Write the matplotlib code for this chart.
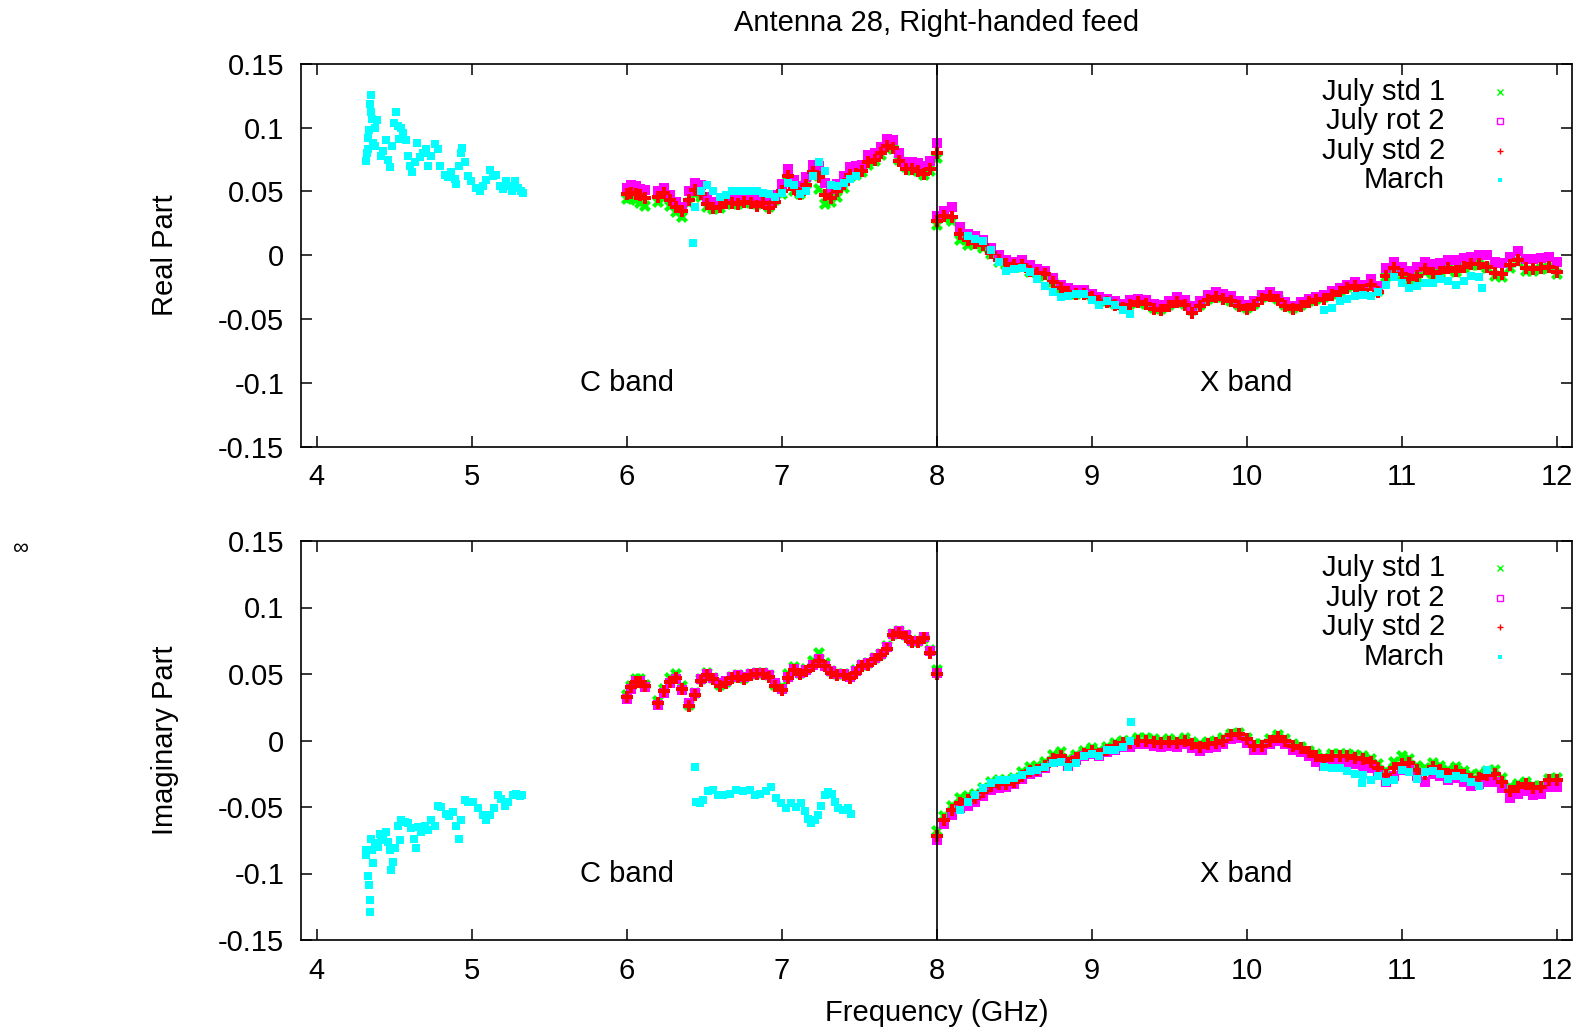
import numpy as np
import matplotlib
matplotlib.use("Agg")
import matplotlib.pyplot as plt

plt.rcParams['font.family'] = ['Liberation Sans', 'DejaVu Sans']
plt.rcParams['axes.unicode_minus'] = False

TITLE = "Antenna 28, Right-handed feed"
SERIES = ["July std 1", "July rot 2", "July std 2", "March"]
COLORS = ["#00ff00", "#ff00ff", "#ff0000", "#00ffff"]
XTICKS = [4, 5, 6, 7, 8, 9, 10, 11, 12]
YTICKS = [-0.15, -0.1, -0.05, 0, 0.05, 0.1, 0.15]
YTICK_LABELS = ["-0.15", "-0.1", "-0.05", "0", "0.05", "0.1", "0.15"]

# ---------------- frequency grids (GHz) for July data ----------------
F_C1 = [6.00, 6.03, 6.06, 6.09, 6.12]
F_C2 = [6.20, 6.24, 6.28, 6.32, 6.36]
F_C3 = np.round(np.arange(6.40, 8.001, 0.04), 2)
F_X = np.round(np.arange(8.00, 12.001, 0.05), 2)

# ---------------- TOP panel: Real part ----------------
G_TOP_C1 = [0.044, 0.045, 0.043, 0.041, 0.039]
M_TOP_C1 = [0.053, 0.055, 0.054, 0.052, 0.051]
R_TOP_C1 = [0.048, 0.049, 0.048, 0.047, 0.045]
G_TOP_C2 = [0.042, 0.045, 0.039, 0.034, 0.030]
M_TOP_C2 = [0.050, 0.053, 0.047, 0.042, 0.038]
R_TOP_C2 = [0.046, 0.049, 0.043, 0.038, 0.035]

M_TOP_C3 = [0.050, 0.057, 0.055, 0.046, 0.042, 0.042, 0.045, 0.045, 0.044, 0.046,
            0.045, 0.044, 0.045, 0.042, 0.047, 0.056, 0.068, 0.059, 0.054, 0.061,
            0.071, 0.070, 0.057, 0.052, 0.056, 0.062, 0.069, 0.070, 0.071, 0.079,
            0.080, 0.085, 0.091, 0.090, 0.080, 0.073, 0.073, 0.072, 0.070, 0.074,
            0.088]
R_TOP_C3 = [0.043, 0.051, 0.048, 0.040, 0.037, 0.038, 0.041, 0.041, 0.040, 0.042,
            0.041, 0.039, 0.041, 0.037, 0.042, 0.050, 0.062, 0.052, 0.048, 0.055,
            0.065, 0.061, 0.047, 0.045, 0.050, 0.056, 0.063, 0.064, 0.066, 0.073,
            0.075, 0.080, 0.086, 0.084, 0.074, 0.068, 0.068, 0.066, 0.064, 0.068,
            0.080]
G_TOP_C3 = [0.041, 0.048, 0.046, 0.038, 0.036, 0.037, 0.040, 0.041, 0.040, 0.042,
            0.041, 0.040, 0.041, 0.038, 0.043, 0.048, 0.058, 0.050, 0.048, 0.056,
            0.062, 0.052, 0.040, 0.042, 0.046, 0.053, 0.061, 0.063, 0.065, 0.071,
            0.074, 0.079, 0.084, 0.083, 0.075, 0.069, 0.067, 0.066, 0.063, 0.066,
            0.076]

M_TOP_X = [0.031, 0.035, 0.038, 0.022, 0.017, 0.015, 0.012, 0.006, 0.000, -0.004,
           -0.005, -0.004, -0.008, -0.011, -0.012, -0.018, -0.023, -0.026, -0.027, -0.027,
           -0.030, -0.033, -0.034, -0.036, -0.038, -0.035, -0.034, -0.035, -0.038, -0.039,
           -0.036, -0.033, -0.035, -0.040, -0.036, -0.031, -0.029, -0.030, -0.032, -0.036,
           -0.039, -0.036, -0.031, -0.029, -0.032, -0.037, -0.040, -0.037, -0.034, -0.033,
           -0.031, -0.028, -0.026, -0.023, -0.021, -0.023, -0.019, -0.024, -0.010, -0.005,
           -0.009, -0.012, -0.009, -0.005, -0.007, -0.006, -0.004, -0.004, -0.002, -0.001,
           0.000, 0.000, -0.005, -0.006, -0.001, 0.003, -0.003, -0.003, -0.002, -0.001,
           -0.005]
R_TOP_X = [0.027, 0.031, 0.030, 0.017, 0.012, 0.010, 0.008, 0.002, -0.004, -0.007,
           -0.008, -0.008, -0.012, -0.014, -0.015, -0.021, -0.026, -0.029, -0.030, -0.030,
           -0.033, -0.036, -0.037, -0.039, -0.041, -0.039, -0.037, -0.038, -0.042, -0.043,
           -0.040, -0.037, -0.039, -0.045, -0.040, -0.035, -0.033, -0.034, -0.036, -0.040,
           -0.042, -0.039, -0.034, -0.032, -0.035, -0.040, -0.042, -0.040, -0.037, -0.035,
           -0.034, -0.031, -0.029, -0.026, -0.024, -0.027, -0.023, -0.029, -0.016, -0.010,
           -0.015, -0.019, -0.016, -0.011, -0.014, -0.013, -0.010, -0.012, -0.009, -0.007,
           -0.007, -0.009, -0.014, -0.015, -0.008, -0.004, -0.010, -0.011, -0.010, -0.009,
           -0.013]
G_TOP_X = [0.024, 0.029, 0.027, 0.012, 0.008, 0.009, 0.006, 0.001, -0.005, -0.008,
           -0.009, -0.009, -0.013, -0.014, -0.016, -0.021, -0.026, -0.028, -0.030, -0.029,
           -0.032, -0.035, -0.036, -0.038, -0.040, -0.038, -0.037, -0.038, -0.041, -0.042,
           -0.039, -0.037, -0.038, -0.043, -0.039, -0.034, -0.033, -0.033, -0.036, -0.039,
           -0.041, -0.038, -0.033, -0.032, -0.034, -0.039, -0.041, -0.039, -0.036, -0.034,
           -0.033, -0.030, -0.028, -0.025, -0.023, -0.026, -0.023, -0.028, -0.017, -0.012,
           -0.016, -0.020, -0.017, -0.013, -0.015, -0.014, -0.011, -0.013, -0.010, -0.008,
           -0.008, -0.010, -0.016, -0.017, -0.010, -0.005, -0.012, -0.012, -0.011, -0.010,
           -0.015]

# March, real part
TOP_MARCH_C1_F = [4.320, 4.325, 4.330, 4.335, 4.338, 4.345, 4.350, 4.353, 4.360, 4.365,
                  4.375, 4.380, 4.392, 4.413, 4.430, 4.446, 4.460, 4.476, 4.490, 4.500,
                  4.515, 4.525, 4.535, 4.547, 4.558, 4.575, 4.590, 4.605, 4.618, 4.633,
                  4.648, 4.665, 4.686, 4.704, 4.719, 4.740, 4.762, 4.783, 4.798, 4.826,
                  4.848, 4.869, 4.891, 4.902, 4.919, 4.930, 4.940, 4.955, 4.977, 4.998,
                  5.026, 5.052, 5.074, 5.095, 5.117, 5.138, 5.160, 5.181, 5.203, 5.224,
                  5.246, 5.261, 5.278, 5.300, 5.321, 5.330]
TOP_MARCH_C1_V = [0.074, 0.080, 0.083, 0.092, 0.098, 0.119, 0.126, 0.112, 0.107, 0.088,
                  0.086, 0.100, 0.106, 0.078, 0.082, 0.090, 0.075, 0.069, 0.086, 0.104,
                  0.112, 0.101, 0.091, 0.100, 0.096, 0.090, 0.078, 0.070, 0.065, 0.073,
                  0.088, 0.077, 0.080, 0.083, 0.070, 0.078, 0.087, 0.083, 0.070, 0.063,
                  0.061, 0.065, 0.060, 0.056, 0.070, 0.080, 0.084, 0.073, 0.062, 0.058,
                  0.053, 0.050, 0.054, 0.059, 0.067, 0.062, 0.063, 0.054, 0.052, 0.058,
                  0.054, 0.050, 0.058, 0.053, 0.050, 0.049]
TOP_MARCH_C2_F = [6.430, 6.440, 6.480, 6.520, 6.560, 6.600, 6.640, 6.680, 6.720, 6.760,
                  6.800, 6.840, 6.880, 6.920, 6.960, 7.000, 7.040, 7.080, 7.120, 7.160,
                  7.200, 7.240, 7.280, 7.320, 7.360, 7.400, 7.440, 7.480]
TOP_MARCH_C2_V = [0.010, 0.038, 0.050, 0.055, 0.050, 0.046, 0.047, 0.050, 0.050, 0.050,
                  0.050, 0.050, 0.049, 0.048, 0.046, 0.049, 0.057, 0.055, 0.048, 0.050,
                  0.062, 0.073, 0.066, 0.055, 0.054, 0.057, 0.060, 0.062]
TOP_MARCH_X1_F = np.round(np.arange(8.20, 9.251, 0.05), 2)
TOP_MARCH_X1_V = [0.015, 0.013, 0.011, 0.004, -0.005, -0.012, -0.011, -0.010, -0.013, -0.019,
                  -0.024, -0.029, -0.033, -0.032, -0.030, -0.030, -0.035, -0.039, -0.036, -0.039,
                  -0.043, -0.046]
TOP_MARCH_X2_F = list(np.round(np.arange(10.50, 11.501, 0.05), 2)) + [11.52]
TOP_MARCH_X2_V = [-0.043, -0.041, -0.036, -0.034, -0.032, -0.031, -0.032, -0.029, -0.023, -0.017,
                  -0.022, -0.026, -0.024, -0.022, -0.022, -0.019, -0.020, -0.023, -0.020, -0.016,
                  -0.017, -0.026]

# ---------------- BOTTOM panel: Imaginary part ----------------
G_BOT_C1 = [0.034, 0.041, 0.046, 0.046, 0.042]
M_BOT_C1 = [0.031, 0.039, 0.045, 0.045, 0.040]
R_BOT_C1 = [0.033, 0.040, 0.044, 0.044, 0.041]
G_BOT_C2 = [0.030, 0.039, 0.047, 0.050, 0.041]
M_BOT_C2 = [0.027, 0.036, 0.043, 0.046, 0.038]
R_BOT_C2 = [0.028, 0.037, 0.044, 0.047, 0.039]

R_BOT_C3 = [0.026, 0.034, 0.045, 0.049, 0.046, 0.041, 0.043, 0.047, 0.048, 0.046,
            0.049, 0.050, 0.050, 0.048, 0.041, 0.038, 0.047, 0.053, 0.050, 0.052,
            0.056, 0.060, 0.056, 0.051, 0.049, 0.049, 0.047, 0.051, 0.056, 0.057,
            0.061, 0.064, 0.069, 0.079, 0.081, 0.078, 0.074, 0.074, 0.077, 0.066,
            0.050]
M_BOT_C3 = [0.028, 0.036, 0.046, 0.050, 0.047, 0.043, 0.045, 0.048, 0.049, 0.048,
            0.050, 0.051, 0.051, 0.049, 0.043, 0.039, 0.048, 0.054, 0.051, 0.053,
            0.057, 0.061, 0.056, 0.052, 0.050, 0.050, 0.048, 0.052, 0.057, 0.058,
            0.062, 0.065, 0.070, 0.080, 0.082, 0.079, 0.075, 0.075, 0.078, 0.067,
            0.051]
G_BOT_C3 = [0.027, 0.036, 0.046, 0.051, 0.047, 0.042, 0.044, 0.048, 0.049, 0.047,
            0.050, 0.051, 0.051, 0.049, 0.042, 0.040, 0.050, 0.055, 0.051, 0.054,
            0.060, 0.066, 0.058, 0.052, 0.050, 0.050, 0.049, 0.053, 0.057, 0.058,
            0.062, 0.065, 0.071, 0.080, 0.082, 0.079, 0.075, 0.075, 0.077, 0.068,
            0.053]

R_BOT_X = [-0.072, -0.060, -0.052, -0.047, -0.045, -0.043, -0.039, -0.034, -0.033, -0.033,
           -0.031, -0.027, -0.023, -0.022, -0.019, -0.014, -0.012, -0.017, -0.013, -0.010,
           -0.008, -0.010, -0.007, -0.004, -0.002, -0.002, 0.000, 0.000, -0.001, -0.002,
           -0.001, -0.002, 0.000, -0.003, -0.005, -0.003, -0.002, 0.000, 0.004, 0.005,
           0.001, -0.004, -0.004, 0.000, 0.003, 0.000, -0.004, -0.006, -0.009, -0.012,
           -0.015, -0.012, -0.012, -0.012, -0.013, -0.014, -0.016, -0.021, -0.026, -0.021,
           -0.018, -0.017, -0.022, -0.025, -0.020, -0.022, -0.025, -0.023, -0.026, -0.029,
           -0.028, -0.026, -0.025, -0.031, -0.038, -0.035, -0.033, -0.036, -0.035, -0.030,
           -0.030]
M_BOT_X = [-0.075, -0.063, -0.056, -0.051, -0.049, -0.046, -0.042, -0.037, -0.036, -0.035,
           -0.033, -0.029, -0.025, -0.024, -0.021, -0.016, -0.014, -0.019, -0.015, -0.012,
           -0.010, -0.012, -0.009, -0.007, -0.005, -0.005, -0.003, -0.003, -0.004, -0.005,
           -0.004, -0.005, -0.003, -0.006, -0.008, -0.006, -0.005, -0.003, 0.001, 0.002,
           -0.002, -0.007, -0.007, -0.003, 0.000, -0.003, -0.007, -0.009, -0.012, -0.016,
           -0.019, -0.017, -0.017, -0.017, -0.018, -0.019, -0.021, -0.026, -0.031, -0.027,
           -0.022, -0.022, -0.027, -0.031, -0.025, -0.027, -0.030, -0.028, -0.031, -0.034,
           -0.033, -0.031, -0.031, -0.036, -0.043, -0.040, -0.038, -0.041, -0.040, -0.035,
           -0.035]
G_BOT_X = [-0.068, -0.057, -0.049, -0.043, -0.042, -0.040, -0.036, -0.031, -0.030, -0.030,
           -0.028, -0.024, -0.020, -0.019, -0.016, -0.011, -0.009, -0.014, -0.011, -0.008,
           -0.006, -0.008, -0.005, -0.002, 0.000, 0.000, 0.002, 0.002, 0.001, 0.000,
           0.001, 0.000, 0.002, -0.001, -0.003, -0.001, 0.000, 0.002, 0.005, 0.006,
           0.002, -0.003, -0.003, 0.001, 0.004, 0.001, -0.003, -0.005, -0.008, -0.010,
           -0.013, -0.010, -0.010, -0.010, -0.011, -0.012, -0.014, -0.018, -0.023, -0.016,
           -0.012, -0.014, -0.019, -0.021, -0.017, -0.019, -0.022, -0.020, -0.023, -0.026,
           -0.025, -0.023, -0.022, -0.028, -0.035, -0.033, -0.031, -0.034, -0.034, -0.029,
           -0.028]

# March, imaginary part
BOT_MARCH_C1_F = [4.317, 4.321, 4.332, 4.337, 4.346, 4.346, 4.353, 4.359, 4.364, 4.375,
                  4.396, 4.407, 4.418, 4.430, 4.446, 4.461, 4.472, 4.482, 4.493, 4.504,
                  4.525, 4.536, 4.547, 4.568, 4.590, 4.610, 4.626, 4.644, 4.654, 4.676,
                  4.697, 4.719, 4.740, 4.762, 4.783, 4.805, 4.837, 4.858, 4.880, 4.902,
                  4.917, 4.934, 4.955, 4.977, 5.009, 5.041, 5.074, 5.095, 5.117, 5.143,
                  5.170, 5.192, 5.213, 5.235, 5.267, 5.289, 5.310, 5.327]
BOT_MARCH_C1_V = [-0.082, -0.086, -0.102, -0.109, -0.120, -0.129, -0.074, -0.082, -0.092, -0.077,
                  -0.080, -0.070, -0.075, -0.072, -0.069, -0.076, -0.082, -0.097, -0.091, -0.081,
                  -0.064, -0.075, -0.060, -0.061, -0.062, -0.066, -0.074, -0.081, -0.065, -0.069,
                  -0.064, -0.067, -0.060, -0.064, -0.049, -0.050, -0.055, -0.057, -0.054, -0.064,
                  -0.074, -0.060, -0.045, -0.046, -0.046, -0.051, -0.056, -0.060, -0.056, -0.051,
                  -0.041, -0.044, -0.049, -0.046, -0.041, -0.040, -0.042, -0.041]
BOT_MARCH_C2_F = [6.439, 6.450, 6.472, 6.493, 6.525, 6.557, 6.590, 6.622, 6.665, 6.708,
                  6.751, 6.794, 6.826, 6.859, 6.902, 6.934, 6.966, 6.998, 7.031, 7.063,
                  7.095, 7.127, 7.149, 7.170, 7.192, 7.213, 7.235, 7.256, 7.278, 7.299,
                  7.327, 7.342, 7.364, 7.396, 7.428, 7.450]
BOT_MARCH_C2_V = [-0.020, -0.046, -0.047, -0.045, -0.038, -0.037, -0.041, -0.041, -0.040, -0.037,
                  -0.038, -0.037, -0.041, -0.040, -0.038, -0.035, -0.043, -0.047, -0.051, -0.047,
                  -0.050, -0.047, -0.053, -0.059, -0.062, -0.060, -0.056, -0.049, -0.041, -0.039,
                  -0.040, -0.046, -0.051, -0.052, -0.051, -0.055]
BOT_MARCH_X1_F = list(np.round(np.arange(8.15, 9.251, 0.05), 2)) + [9.257]
BOT_MARCH_X1_V = [-0.052, -0.046, -0.041, -0.036, -0.032, -0.030, -0.030, -0.028, -0.026, -0.023,
                  -0.022, -0.020, -0.017, -0.016, -0.020, -0.017, -0.012, -0.010, -0.012, -0.007,
                  -0.007, -0.005, 0.000, 0.014]
BOT_MARCH_X2_F = list(np.round(np.arange(10.50, 11.501, 0.05), 2)) + [10.746, 11.55]
BOT_MARCH_X2_V = [-0.020, -0.021, -0.021, -0.023, -0.025, -0.026, -0.030, -0.027, -0.031, -0.030,
                  -0.022, -0.024, -0.029, -0.024, -0.023, -0.025, -0.029, -0.027, -0.028, -0.031,
                  -0.034, -0.032, -0.022]


def cat(*parts):
    return np.concatenate([np.asarray(p, dtype=float) for p in parts])


F_JULY = cat(F_C1, F_C2, F_C3, F_X)

panels = [
    dict(ylabel="Real Part",
         g=cat(G_TOP_C1, G_TOP_C2, G_TOP_C3, G_TOP_X),
         m=cat(M_TOP_C1, M_TOP_C2, M_TOP_C3, M_TOP_X),
         r=cat(R_TOP_C1, R_TOP_C2, R_TOP_C3, R_TOP_X),
         fm=cat(TOP_MARCH_C1_F, TOP_MARCH_C2_F, TOP_MARCH_X1_F, TOP_MARCH_X2_F),
         vm=cat(TOP_MARCH_C1_V, TOP_MARCH_C2_V, TOP_MARCH_X1_V, TOP_MARCH_X2_V),
         rect=[301 / 1591, 1 - 446.5 / 1034, 1271 / 1591, 382.5 / 1034],
         leg_y=[0.927, 0.850, 0.773, 0.696]),
    dict(ylabel="Imaginary Part",
         g=cat(G_BOT_C1, G_BOT_C2, G_BOT_C3, G_BOT_X),
         m=cat(M_BOT_C1, M_BOT_C2, M_BOT_C3, M_BOT_X),
         r=cat(R_BOT_C1, R_BOT_C2, R_BOT_C3, R_BOT_X),
         fm=cat(BOT_MARCH_C1_F, BOT_MARCH_C2_F, BOT_MARCH_X1_F, BOT_MARCH_X2_F),
         vm=cat(BOT_MARCH_C1_V, BOT_MARCH_C2_V, BOT_MARCH_X1_V, BOT_MARCH_X2_V),
         rect=[301 / 1591, 1 - 940 / 1034, 1271 / 1591, 399 / 1034],
         leg_y=[0.932, 0.858, 0.784, 0.710]),
]

FS = 21
fig = plt.figure(figsize=(15.91, 10.34), dpi=100)

for i, p in enumerate(panels):
    ax = fig.add_axes(p["rect"])
    ax.plot(F_JULY, p["g"], ls="none", marker="X", ms=8, mew=0, color=COLORS[0])
    ax.plot(F_JULY, p["m"], ls="none", marker="s", ms=7, mew=0, color=COLORS[1])
    ax.plot(F_JULY, p["r"], ls="none", marker="P", ms=8, mew=0, color=COLORS[2])
    ax.plot(p["fm"], p["vm"], ls="none", marker="s", ms=5.5, mew=0, color=COLORS[3])
    ax.axvline(8.0, color="black", lw=1.2)
    ax.set_xlim(3.9, 12.1)
    ax.set_ylim(-0.15, 0.15)
    ax.set_xticks(XTICKS)
    ax.set_xticklabels([str(t) for t in XTICKS])
    ax.set_yticks(YTICKS)
    ax.set_yticklabels(YTICK_LABELS)
    ax.tick_params(direction="in", length=8, width=1.1, top=True, right=True,
                   labelsize=FS)
    ax.tick_params(axis="y", pad=12)
    ax.tick_params(axis="x", pad=12)
    for s in ax.spines.values():
        s.set_linewidth(1.2)
    ax.set_ylabel(p["ylabel"], fontsize=FS)
    ax.yaxis.set_label_coords(-0.096, 0.5)
    ax.text(6.0, -0.1, "C band", ha="center", va="center", fontsize=FS)
    ax.text(10.0, -0.1, "X band", ha="center", va="center", fontsize=FS)

    # gnuplot-style key: right-aligned text, tiny marker to its right
    key_markers = [dict(marker="x", ms=4, mew=1.0, color=COLORS[0]),
                   dict(marker="s", ms=4, mew=1.0, mfc="none", mec=COLORS[1]),
                   dict(marker="+", ms=4.5, mew=1.0, color=COLORS[2]),
                   dict(marker="s", ms=3.5, mew=0, color=COLORS[3])]
    for lbl, y, km in zip(SERIES, p["leg_y"], key_markers):
        ax.text(0.900, y, lbl, transform=ax.transAxes, ha="right", va="center",
                fontsize=FS)
        ax.plot([0.943], [y], transform=ax.transAxes, ls="none", clip_on=False, **km)

    if i == 0:
        ax.set_title(TITLE, fontsize=FS, pad=24)
    else:
        ax.set_xlabel("Frequency (GHz)", fontsize=FS, labelpad=10)

fig.text(20 / 1591, 1 - 549 / 1034, "\u221e", ha="center", va="center", fontsize=16)

fig.savefig("out.png", dpi=100)
